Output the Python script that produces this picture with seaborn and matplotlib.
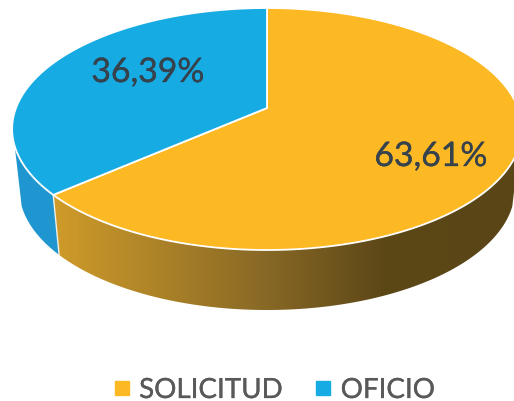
import numpy as np
import seaborn as sns
import matplotlib.pyplot as plt
import matplotlib.patheffects as pe
from matplotlib.colors import LinearSegmentedColormap
from matplotlib.lines import Line2D
from matplotlib.patches import Polygon

categories = ['SOLICITUD', 'OFICIO']
shares = [63.61, 36.39]
labels = ['63,61%', '36,39%']

sns.set_theme(style='white')
plt.rcParams['font.family'] = ['Lato', 'DejaVu Sans']
palette = sns.color_palette(['#FDB924', '#17ABE3'])


# Tilted disc: pie angle (degrees clockwise from 12 o'clock) to pixel position
def top_face(deg):
    t = np.radians(deg)
    u, v = np.sin(t), np.cos(t)
    w = 1 + 0.1736 * v
    return 267 + 251 * u / w, 130 - (121 * v + 21) / w


def bottom_face(deg):
    x, y = top_face(deg)
    return 267 + (x - 267) * 0.9725, y + 60


def side_polygon(a, b):
    deg = np.linspace(a, b, 200)
    xt, yt = top_face(deg)
    xb, yb = bottom_face(deg)
    return np.r_[np.c_[xt, yt], np.c_[xb, yb][::-1]]


fig, ax = plt.subplots(figsize=(5.14, 4.02), dpi=100)
fig.subplots_adjust(0, 0, 1, 1)
ax.axis('off')

# Slice boundaries come from the shares
seam = 360 * shares[0] / 100
side_start, side_end = 108, 252

# Rim, yellow part has a left to right shade
rim_cmap = LinearSegmentedColormap.from_list(
    'rim', [(0, '#D09C2A'), (0.45, '#8A6A26'), (0.72, '#5C4717'), (1, '#5A4516')])
rim = ax.imshow(np.linspace(0, 1, 256)[None, :], cmap=rim_cmap, aspect='auto',
                extent=(52, 514, 320, 150), zorder=1)
ax.set_xlim(0, 514)
ax.set_ylim(402, 0)
rim.set_clip_path(Polygon(side_polygon(side_start, seam), transform=ax.transData))

ax.add_patch(Polygon(side_polygon(seam, side_end), fc='#1F96CF', ec='none', zorder=1))
xs, ys = top_face(seam)
xb, yb = bottom_face(seam)
ax.plot([xs, xb], [ys, yb], color='#F2EFE6', lw=1, zorder=2)

# Top face
for start, share, color in zip([0, seam], shares, palette):
    deg = np.linspace(start, start + 360 * share / 100, 300)
    x, y = top_face(deg)
    pts = np.r_[[[267, 109]], np.c_[x, y]]
    ax.add_patch(Polygon(pts, closed=True, fc=color, ec='white', lw=1.3, zorder=3))

thicker = [pe.withStroke(linewidth=0.25, foreground='#36424C')]
ax.text(431, 157, labels[0], color='#36424C', fontsize=24.3, ha='center', va='center',
        zorder=4, path_effects=thicker)
ax.text(148, 73, labels[1], color='#36424C', fontsize=24.3, ha='center', va='center',
        zorder=4, path_effects=thicker)

handles = [Line2D([], [], marker='s', ls='none', color=c, markersize=10) for c in palette]
leg = ax.legend(handles, categories, loc='center', bbox_to_anchor=(273, 391), ncol=2,
                bbox_transform=ax.transData, frameon=False, fontsize=20, labelcolor='#595959',
                handlelength=0.75, handletextpad=0.25, columnspacing=1.1, borderpad=0)
for t in leg.get_texts():
    t.set_path_effects([pe.withStroke(linewidth=0.2, foreground='#595959')])

sns.despine(left=True, bottom=True)
fig.savefig('out.png', dpi=100)
